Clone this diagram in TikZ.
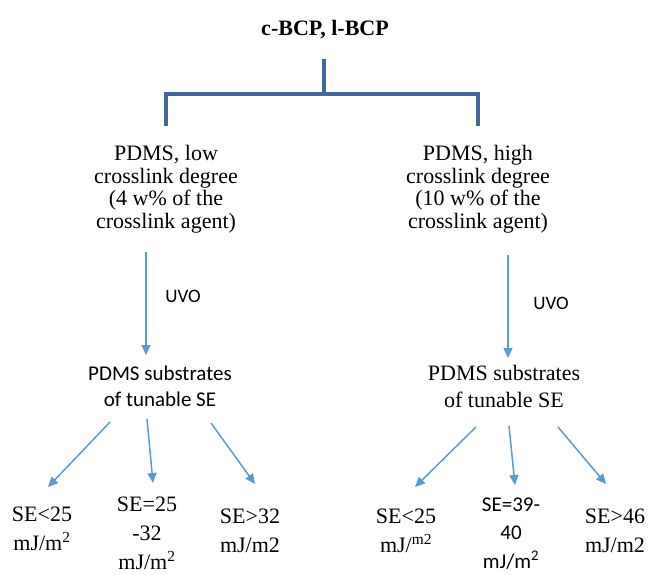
\documentclass[tikz,border=0pt]{standalone}
\usepackage{fontspec}
\setmainfont{Liberation Serif}
\newfontfamily\calib{Carlito}
\usetikzlibrary{arrows.meta}
\definecolor{bracketblue}{RGB}{65,103,156}
\definecolor{arrowblue}{RGB}{91,155,213}
\begin{document}
\begin{tikzpicture}[x=1pt,y=1pt,
  bracket/.style={draw=bracketblue,line width=3.5pt,line join=miter},
  flow/.style={draw=arrowblue,line width=1.5pt,-{Triangle[length=10pt,width=9pt]}},
  txt/.style={align=center,inner sep=0pt,anchor=base},
  toptext/.style={txt,font=\fontsize{22}{22.5}\selectfont},
  midtimes/.style={txt,font=\fontsize{22}{27}\selectfont},
  midcal/.style={txt,font=\calib\fontsize{21}{26}\selectfont},
  uvo/.style={txt,font=\calib\fontsize{19}{22}\selectfont},
  bottimes/.style={txt,font=\fontsize{22}{29}\selectfont},
  botcal/.style={txt,font=\calib\fontsize{21}{28.5}\selectfont}
]
\useasboundingbox (0,0) rectangle (649,-574);
% title
\node[txt,font=\bfseries\fontsize{22}{24}\selectfont] (title) at (325,-35) {c-BCP, l-BCP};
% bracket
\coordinate (bt) at (324,-59);
\coordinate (bm) at (324,-94);
\coordinate (bl) at (166,-94);
\coordinate (br) at (478,-94);
\coordinate (bld) at (166,-126);
\coordinate (brd) at (478,-126);
\draw[bracket] (bt) -- (bm);
\draw[bracket] (bld) -- (bl) -- (br) -- (brd);
% second level (base = last line baseline)
\node[toptext] (low) at (166,-228) {PDMS, low\\crosslink degree\\(4 w\% of the\\crosslink agent)};
\node[toptext] (high) at (478,-228) {PDMS, high\\crosslink degree\\(10 w\% of the\\crosslink agent)};
% UVO arrows
\coordinate (la0) at (146,-252);
\coordinate (la1) at (146,-355);
\coordinate (ra0) at (508,-255);
\coordinate (ra1) at (508,-358);
\draw[flow] (la0) -- (la1);
\draw[flow] (ra0) -- (ra1);
\node[uvo] (uvoL) at (183,-302) {UVO};
\node[uvo] (uvoR) at (551,-309) {UVO};
% substrates
\node[midcal] (subL) at (160,-406) {PDMS substrates\\of tunable SE};
\node[midtimes] (subR) at (504,-407) {PDMS substrates\\of tunable SE};
% branch arrows left
\coordinate (l1s) at (110,-422); \coordinate (l1e) at (48,-487);
\coordinate (l2s) at (147,-419); \coordinate (l2e) at (153,-483);
\coordinate (l3s) at (211,-423); \coordinate (l3e) at (255,-484);
\draw[flow] (l1s) -- (l1e);
\draw[flow] (l2s) -- (l2e);
\draw[flow] (l3s) -- (l3e);
% branch arrows right
\coordinate (r1s) at (476,-427); \coordinate (r1e) at (415,-487);
\coordinate (r2s) at (509,-426); \coordinate (r2e) at (515,-485);
\coordinate (r3s) at (558,-427); \coordinate (r3e) at (606,-484);
\draw[flow] (r1s) -- (r1e);
\draw[flow] (r2s) -- (r2e);
\draw[flow] (r3s) -- (r3e);
% bottom labels left
\node[bottimes] (lA) at (42,-550) {SE<25\\mJ/m\textsuperscript{2}};
\node[bottimes] (lB) at (147,-569) {SE=25\\-32\\mJ/m\textsuperscript{2}};
\node[bottimes] (lC) at (250,-552) {SE>32\\mJ/m2};
% bottom labels right
\node[bottimes] (rA) at (406,-552) {SE<25\\mJ/\textsuperscript{m2}};
\node[botcal] (rB) at (511,-568) {SE=39-\\40\\mJ/m\textsuperscript{2}};
\node[bottimes] (rC) at (615,-552) {SE>46\\mJ/m2};
\end{tikzpicture}
\end{document}
